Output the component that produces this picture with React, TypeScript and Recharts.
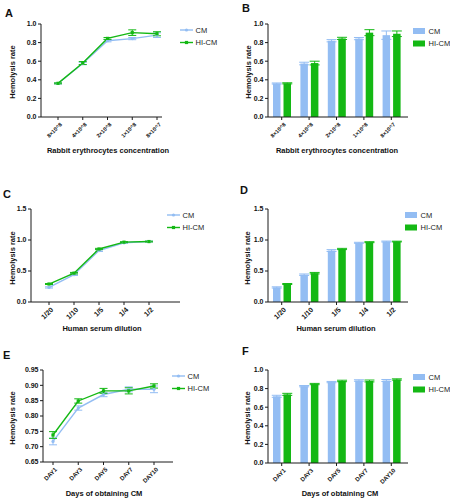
import React from 'react';
import { LineChart, Line, BarChart, Bar, XAxis, YAxis, ErrorBar, Label, Legend } from 'recharts';

const CM_COLOR = '#93BDF3';
const HI_COLOR = '#14B814';
const AXIS_COLOR = '#1a1a1a';
const FONT = '"Liberation Sans", Arial, Helvetica, sans-serif';
const XH = 30;

// ---- data ----
const rabbitConc = ['8×10^8', '4×10^8', '2×10^8', '1×10^8', '8×10^7'];
const rabbitCM = [0.36, 0.575, 0.82, 0.843, 0.88];
const rabbitCMErr = [0.005, 0.012, 0.012, 0.012, 0.025];
const rabbitHI = [0.362, 0.58, 0.845, 0.907, 0.895];
const rabbitHIErr = [0.005, 0.016, 0.01, 0.03, 0.022];
const rabbitCMErrBar = [0.006, 0.014, 0.012, 0.012, 0.045];
const rabbitHIErrBar = [0.006, 0.02, 0.012, 0.032, 0.03];

const serumDil = ['1/20', '1/10', '1/5', '1/4', '1/2'];
const serumCM = [0.235, 0.44, 0.83, 0.955, 0.975];
const serumCMErr = [0.01, 0.012, 0.015, 0.008, 0.008];
const serumHI = [0.29, 0.465, 0.855, 0.965, 0.975];
const serumHIErr = [0.008, 0.012, 0.01, 0.008, 0.006];

const days = ['DAY1', 'DAY3', 'DAY5', 'DAY7', 'DAY10'];
const dayCM = [0.717, 0.826, 0.87, 0.887, 0.887];
const dayCMErr = [0.011, 0.007, 0.007, 0.008, 0.011];
const dayHI = [0.738, 0.849, 0.882, 0.882, 0.898];
const dayHIErr = [0.011, 0.007, 0.008, 0.01, 0.007];

const ticks01 = [0, 0.2, 0.4, 0.6, 0.8, 1.0];
const ticks15 = [0, 0.5, 1.0, 1.5];
const ticksDay = [0.65, 0.7, 0.75, 0.8, 0.85, 0.9, 0.95];

const seriesNames = ['CM', 'HI-CM'];
const yTitle = 'Hemolysis rate';

type PanelCfg = {
  kind: 'line' | 'bar';
  box: [number, number, number, number];
  x0: number; x1: number; y0: number; y1: number;
  pad: { left: number; right: number };
  cats: string[]; cm: number[]; cmErr: number[]; hi: number[]; hiErr: number[];
  domain: [number, number]; ticks: number[]; digits: number;
  xTitle: string; xTitleX: number; xTitleY: number;
  yTitleX: number; yTitleY: number;
  xTickFont: number;
  legend: [number, number];
  letter: string; letterX: number; letterY: number;
};

const panels: PanelCfg[] = [
  {
    kind: 'line', box: [0, 0, 225, 165], x0: 41, x1: 162, y0: 24, y1: 117, pad: { left: 17, right: 5 },
    cats: rabbitConc, cm: rabbitCM, cmErr: rabbitCMErr, hi: rabbitHI, hiErr: rabbitHIErr,
    domain: [0, 1], ticks: ticks01, digits: 1,
    xTitle: 'Rabbit erythrocytes concentration', xTitleX: 108, xTitleY: 152.5,
    yTitleX: 12, yTitleY: 72, xTickFont: 5.5, legend: [180, 30], letter: 'A', letterX: 5, letterY: 17,
  },
  {
    kind: 'bar', box: [225, 0, 225, 165], x0: 268, x1: 408, y0: 24, y1: 117, pad: { left: 0, right: 3 },
    cats: rabbitConc, cm: rabbitCM, cmErr: rabbitCMErrBar, hi: rabbitHI, hiErr: rabbitHIErrBar,
    domain: [0, 1], ticks: ticks01, digits: 1,
    xTitle: 'Rabbit erythrocytes concentration', xTitleX: 337, xTitleY: 152.5,
    yTitleX: 248, yTitleY: 72, xTickFont: 5.5, legend: [413, 30.5], letter: 'B', letterX: 242, letterY: 12,
  },
  {
    kind: 'line', box: [0, 165, 225, 170], x0: 31, x1: 180, y0: 209, y1: 302, pad: { left: 18, right: 31 },
    cats: serumDil, cm: serumCM, cmErr: serumCMErr, hi: serumHI, hiErr: serumHIErr,
    domain: [0, 1.5], ticks: ticks15, digits: 1,
    xTitle: 'Human serum dilution', xTitleX: 102, xTitleY: 331,
    yTitleX: 12, yTitleY: 258, xTickFont: 7, legend: [167, 215], letter: 'C', letterX: 3, letterY: 198,
  },
  {
    kind: 'bar', box: [225, 165, 225, 170], x0: 268, x1: 408, y0: 209, y1: 302, pad: { left: 0, right: 3 },
    cats: serumDil, cm: serumCM, cmErr: serumCMErr, hi: serumHI, hiErr: serumHIErr,
    domain: [0, 1.5], ticks: ticks15, digits: 1,
    xTitle: 'Human serum dilution', xTitleX: 336, xTitleY: 331,
    yTitleX: 247, yTitleY: 258, xTickFont: 7, legend: [405, 215], letter: 'D', letterX: 240, letterY: 194,
  },
  {
    kind: 'line', box: [0, 335, 225, 165], x0: 43, x1: 173, y0: 370, y1: 462, pad: { left: 10, right: 19 },
    cats: days, cm: dayCM, cmErr: dayCMErr, hi: dayHI, hiErr: dayHIErr,
    domain: [0.65, 0.95], ticks: ticksDay, digits: 2,
    xTitle: 'Days of obtaining CM', xTitleX: 104, xTitleY: 496,
    yTitleX: 12, yTitleY: 418, xTickFont: 6, legend: [172, 376], letter: 'E', letterX: 3, letterY: 359,
  },
  {
    kind: 'bar', box: [225, 335, 225, 165], x0: 268, x1: 408, y0: 370, y1: 463, pad: { left: 0, right: 3 },
    cats: days, cm: dayCM, cmErr: dayCMErr, hi: dayHI, hiErr: dayHIErr,
    domain: [0, 1], ticks: ticks01, digits: 1,
    xTitle: 'Days of obtaining CM', xTitleX: 340, xTitleY: 496,
    yTitleX: 247, yTitleY: 418, xTickFont: 6, legend: [413, 377], letter: 'F', letterX: 242, letterY: 355,
  },
];

const makeXTick = (fs: number) => (props: any) => {
  const { x, y, payload } = props;
  return (
    <g transform={`translate(${x + 3},${y + 1.5})`}>
      <text x={0} y={0} dy="0.35em" textAnchor="end" transform="rotate(-45)" fontSize={fs}
        fontWeight={700} fill="#111" fontFamily={FONT}>{payload.value}</text>
    </g>
  );
};

const circleDot = (color: string) => (props: any) => (
  <circle key={`c-${props.index}`} cx={props.cx} cy={props.cy} r={1.6} fill={color} />
);
const squareDot = (color: string) => (props: any) => (
  <rect key={`s-${props.index}`} x={props.cx - 1.6} y={props.cy - 1.6} width={3.2} height={3.2} fill={color} />
);

function LegendBox({ kind }: { kind: 'line' | 'bar' }) {
  const colors = [CM_COLOR, HI_COLOR];
  return (
    <svg width={60} height={26} style={{ display: 'block', overflow: 'visible' }}>
      {seriesNames.map((n, i) => {
        const cy = 6 + i * 12.5;
        return (
          <g key={n}>
            {kind === 'line' ? (
              <g>
                <line x1={0} x2={13} y1={cy} y2={cy} stroke={colors[i]} strokeWidth={1.4} />
                {i === 0 ? <circle cx={6.5} cy={cy} r={1.6} fill={colors[i]} /> :
                  <rect x={4.9} y={cy - 1.6} width={3.2} height={3.2} fill={colors[i]} />}
              </g>
            ) : (
              <rect x={0} y={cy - 3} width={12} height={6} fill={colors[i]} />
            )}
            <text x={15.5} y={cy} dy="0.35em" fontSize={7.5} fill="#222" fontFamily={FONT}>{n}</text>
          </g>
        );
      })}
    </svg>
  );
}

function Panel({ c }: { c: PanelCfg }) {
  const [bl, bt, bw, bh] = c.box;
  const data = c.cats.map((name, i) => ({
    name, cm: c.cm[i], cmErr: c.cmErr[i], hi: c.hi[i], hiErr: c.hiErr[i],
  }));
  const margin = { top: c.y0 - bt, right: bl + bw - c.x1, bottom: bt + bh - c.y1 - XH, left: 0 };
  const yW = c.x0 - bl;
  const xAxis = (
    <XAxis dataKey="name" type="category" scale={c.kind === 'line' ? 'point' : 'band'} height={XH}
      interval={0} tickSize={3} tickMargin={2} padding={c.pad}
      axisLine={{ stroke: AXIS_COLOR, strokeWidth: 1 }} tickLine={{ stroke: AXIS_COLOR, strokeWidth: 1 }}
      tick={makeXTick(c.xTickFont)}>
      <Label content={() => (
        <text x={c.xTitleX - bl} y={c.xTitleY - bt} textAnchor="middle" fontSize={7.5} fontWeight={700}
          fill="#111" fontFamily={FONT}>{c.xTitle}</text>
      )} />
    </XAxis>
  );
  const yx = c.yTitleX - bl;
  const yy = c.yTitleY - bt;
  const yAxis = (
    <YAxis type="number" domain={c.domain} ticks={c.ticks} width={yW} interval={0} allowDataOverflow
      tickSize={3} tickMargin={1.5} tickFormatter={(v: number) => v.toFixed(c.digits)}
      axisLine={{ stroke: AXIS_COLOR, strokeWidth: 1 }} tickLine={{ stroke: AXIS_COLOR, strokeWidth: 1 }}
      tick={{ fontSize: 7, fontWeight: 700, fill: '#111', fontFamily: FONT }}>
      <Label content={() => (
        <text x={yx} y={yy} dy="0.35em" textAnchor="middle" transform={`rotate(-90, ${yx}, ${yy})`}
          fontSize={7.5} fontWeight={700} fill="#111" fontFamily={FONT}>{yTitle}</text>
      )} />
    </YAxis>
  );
  const legend = (
    <Legend layout="horizontal" verticalAlign="middle" align="center"
      wrapperStyle={{ left: c.legend[0] - bl, top: c.legend[1] - bt - 6, width: 60, height: 26 }}
      content={() => <LegendBox kind={c.kind} />} />
  );
  return (
    <div style={{ position: 'absolute', left: bl, top: bt, width: bw, height: bh }}>
      {c.kind === 'line' ? (
        <LineChart width={bw} height={bh} data={data} margin={margin}>
          {xAxis}
          {yAxis}
          {legend}
          <Line dataKey="cm" stroke={CM_COLOR} strokeWidth={1.4} dot={circleDot(CM_COLOR)} activeDot={false}
            isAnimationActive={false}>
            <ErrorBar dataKey="cmErr" width={4} stroke={CM_COLOR} strokeWidth={1} direction="y" />
          </Line>
          <Line dataKey="hi" stroke={HI_COLOR} strokeWidth={1.4} dot={squareDot(HI_COLOR)} activeDot={false}
            isAnimationActive={false}>
            <ErrorBar dataKey="hiErr" width={4} stroke={HI_COLOR} strokeWidth={1} direction="y" />
          </Line>
        </LineChart>
      ) : (
        <BarChart width={bw} height={bh} data={data} margin={margin} barGap={3} barSize={7.5}>
          {xAxis}
          {yAxis}
          {legend}
          <Bar dataKey="cm" fill={CM_COLOR} isAnimationActive={false}>
            <ErrorBar dataKey="cmErr" width={5} stroke={CM_COLOR} strokeWidth={1} direction="y" />
          </Bar>
          <Bar dataKey="hi" fill={HI_COLOR} isAnimationActive={false}>
            <ErrorBar dataKey="hiErr" width={5} stroke={HI_COLOR} strokeWidth={1} direction="y" />
          </Bar>
        </BarChart>
      )}
    </div>
  );
}

export default function App() {
  return (
    <div style={{ position: 'absolute', left: 0, top: 0, width: 450, height: 500, background: '#fff', fontFamily: FONT }}>
      {panels.map((p) => <Panel key={p.letter} c={p} />)}
      <svg width={450} height={500} style={{ position: 'absolute', left: 0, top: 0, pointerEvents: 'none' }}>
        {panels.map((p) => (
          <text key={p.letter} x={p.letterX} y={p.letterY} fontSize={11} fontWeight={700} fill="#111" fontFamily={FONT}>
            {p.letter}
          </text>
        ))}
      </svg>
    </div>
  );
}
